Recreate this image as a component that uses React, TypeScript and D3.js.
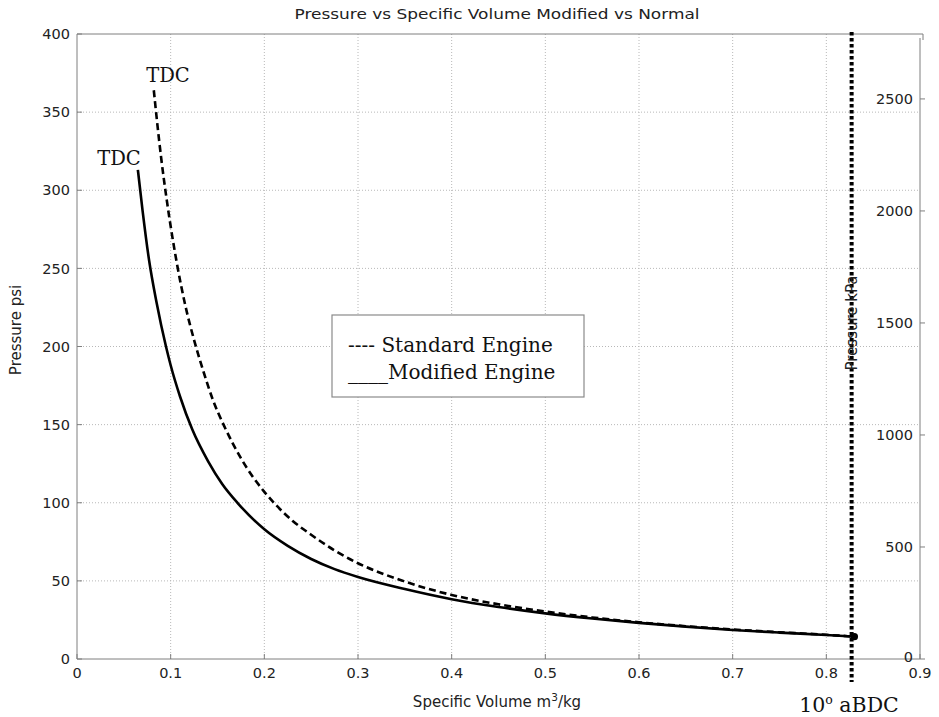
import React from "react";
import * as d3 from "d3";

// Modified engine (solid)
const modVolume = [0.065, 0.07, 0.077, 0.085, 0.095, 0.1, 0.11, 0.123, 0.14, 0.155, 0.172, 0.2, 0.225, 0.25, 0.275, 0.3, 0.35, 0.4, 0.45, 0.5, 0.55, 0.6, 0.65, 0.7, 0.75, 0.8, 0.83];
const modPressure = [313, 287, 255, 228, 200, 188, 168, 147, 126.5, 112, 99.5, 83, 72.4, 64, 57.5, 52.5, 44.8, 38.3, 33.3, 29.2, 25.9, 23.1, 20.7, 18.6, 16.9, 15.4, 14.3];
// Standard engine (dashed)
const stdVolume = [0.082, 0.086, 0.09, 0.096, 0.107, 0.115, 0.126, 0.135, 0.145, 0.158, 0.175, 0.2, 0.211, 0.23, 0.25, 0.275, 0.3, 0.348, 0.4, 0.45, 0.5, 0.55, 0.6, 0.65, 0.7, 0.75, 0.8, 0.83];
const stdPressure = [364, 341, 320, 293, 252, 228, 202, 184, 166, 148, 128.5, 107, 99.5, 88.5, 79.5, 69.5, 61.3, 50, 41, 35, 30.4, 26.6, 23.5, 21, 18.9, 17.1, 15.5, 14.3];

const xTicks = [0, 0.1, 0.2, 0.3, 0.4, 0.5, 0.6, 0.7, 0.8, 0.9];
const yTicks = [0, 50, 100, 150, 200, 250, 300, 350, 400];
const kpaTicks = [0, 500, 1000, 1500, 2000, 2500];
const bdcVolume = 0.827;
const endPoint = { v: 0.83, p: 14.3 };

const title = "Pressure  vs Specific Volume Modified vs Normal";
const legendLabels = ["---- Standard Engine", "____Modified Engine"];

export default function App() {
  const L = 77, R = 920, T = 34, B = 659;
  const x = d3.scaleLinear().domain([0, 0.9]).range([L, R]);
  const y = d3.scaleLinear().domain([0, 400]).range([B, T]);
  const yk = d3.scaleLinear().domain([0, 2772]).range([B, 38]);

  const line = d3
    .line<[number, number]>()
    .x((d) => x(d[0]))
    .y((d) => y(d[1]))
    .curve(d3.curveMonotoneX);

  const modData = modVolume.map((v, i) => [v, modPressure[i]] as [number, number]);
  const stdData = stdVolume.map((v, i) => [v, stdPressure[i]] as [number, number]);

  const axisColor = "#7f7f7f";
  const sans = "'DejaVu Sans', Arial, sans-serif";
  const serif = "'DejaVu Serif', Georgia, serif";

  return (
    <svg width={939} height={717} style={{ position: "absolute", left: 0, top: 0, background: "#fff" }}>
      <rect width={939} height={717} fill="#fff" />
      {/* grid */}
      {xTicks.slice(1, -1).map((t) => (
        <line key={"gx" + t} x1={x(t)} x2={x(t)} y1={T} y2={B} stroke="#b8b8b8" strokeWidth={1} strokeDasharray="1,2" />
      ))}
      {yTicks.slice(1, -1).map((t) => (
        <line key={"gy" + t} x1={L} x2={R} y1={y(t)} y2={y(t)} stroke="#b8b8b8" strokeWidth={1} strokeDasharray="1,2" />
      ))}
      {/* axes frame */}
      <line x1={L} x2={L} y1={T} y2={B} stroke={axisColor} />
      <line x1={L} x2={R} y1={B} y2={B} stroke={axisColor} />
      <line x1={L} x2={R + 3} y1={T} y2={T} stroke={axisColor} />
      <line x1={R + 3} x2={R + 3} y1={T} y2={T + 6} stroke={axisColor} />
      <line x1={R} x2={R} y1={38} y2={B} stroke={axisColor} />
      {/* left ticks */}
      {yTicks.map((t) => (
        <g key={"yt" + t}>
          <line x1={L} x2={L + 5} y1={y(t)} y2={y(t)} stroke={axisColor} />
          <text x={L - 7} y={y(t)} dy="0.36em" textAnchor="end" fontFamily={sans} fontSize={14.5} fill="#222">
            {t}
          </text>
        </g>
      ))}
      {/* bottom ticks */}
      {xTicks.map((t) => (
        <g key={"xt" + t}>
          <line x1={x(t)} x2={x(t)} y1={B} y2={B - 5} stroke={axisColor} />
          <text x={x(t)} y={B + 14} dy="0.36em" textAnchor="middle" fontFamily={sans} fontSize={14.5} fill="#222">
            {t === 0 ? "0" : t.toString()}
          </text>
        </g>
      ))}
      {/* right ticks */}
      {kpaTicks.map((t) => (
        <g key={"kt" + t}>
          <line x1={R} x2={R + 5} y1={yk(t)} y2={yk(t)} stroke={axisColor} />
          <text x={R - 7} y={yk(t) - (t === 0 ? 2 : 0)} dy="0.36em" textAnchor="end" fontFamily={sans} fontSize={14.5} fill="#222">
            {t}
          </text>
        </g>
      ))}
      {/* curves */}
      <path d={line(stdData) || ""} fill="none" stroke="#000" strokeWidth={2.6} strokeDasharray="7,4" />
      <path d={line(modData) || ""} fill="none" stroke="#000" strokeWidth={2.6} />
      {/* BDC dotted line */}
      <line x1={x(bdcVolume)} x2={x(bdcVolume)} y1={T - 2} y2={B + 23} stroke="#000" strokeWidth={4} strokeDasharray="3.5,2.5" />
      <circle cx={x(endPoint.v)} cy={y(endPoint.p)} r={3.6} fill="#000" />
      {/* titles */}
      <text x={497} y={19} textAnchor="middle" fontFamily={sans} fontSize={14.5} textLength={405} lengthAdjust="spacingAndGlyphs" fill="#222">
        {title}
      </text>
      <text x={497} y={707} textAnchor="middle" fontFamily={sans} fontSize={15} fill="#222">
        Specific Volume m<tspan dy={-6} fontSize={10.5}>3</tspan>
        <tspan dy={6}>/kg</tspan>
      </text>
      <text transform={`translate(21,330) rotate(-90)`} textAnchor="middle" fontFamily={sans} fontSize={15} fill="#222">
        Pressure psi
      </text>
      <text transform={`translate(857,323) rotate(-90)`} textAnchor="middle" fontFamily={sans} fontSize={15} fill="#222">
        Pressure kPa
      </text>
      {/* annotations */}
      <text x={168} y={82} textAnchor="middle" fontFamily={serif} fontSize={19.5} fill="#111">TDC</text>
      <text x={119} y={165} textAnchor="middle" fontFamily={serif} fontSize={19.5} fill="#111">TDC</text>
      <text x={849} y={712} textAnchor="middle" fontFamily={serif} fontSize={20.5} fill="#111">
        10<tspan dy={-8} fontSize={12.5}>o</tspan>
        <tspan dy={8}> aBDC</tspan>
      </text>
      {/* legend */}
      <rect x={332} y={315} width={252} height={82} fill="#fff" stroke="#8a8a8a" strokeWidth={1.2} />
      <text x={348} y={352} fontFamily={serif} fontSize={20} fill="#111">{legendLabels[0]}</text>
      <text x={348} y={379} fontFamily={serif} fontSize={20} fill="#111">{legendLabels[1]}</text>
    </svg>
  );
}
